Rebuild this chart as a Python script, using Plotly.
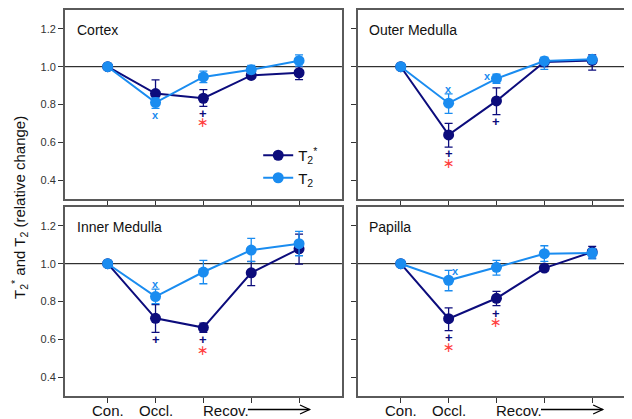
import plotly.graph_objects as go

# ---------------- data ----------------
timepoints = [0, 1, 2, 3, 4]
x_labels = ["Con.", "Occl.", "Recov."]
panels = ["Cortex", "Outer Medulla", "Inner Medulla", "Papilla"]

cortex_t2s = [1.0, 0.858, 0.833, 0.954, 0.968]
cortex_t2s_up = [0.0, 0.072, 0.046, 0.016, 0.032]
cortex_t2s_dn = [0.0, 0.030, 0.043, 0.016, 0.036]
cortex_t2 = [1.0, 0.810, 0.946, 0.984, 1.032]
cortex_t2_up = [0.0, 0.025, 0.031, 0.023, 0.031]
cortex_t2_dn = [0.0, 0.030, 0.030, 0.021, 0.029]

outer_t2s = [1.0, 0.639, 0.819, 1.025, 1.033]
outer_t2s_up = [0.0, 0.061, 0.069, 0.010, 0.030]
outer_t2s_dn = [0.0, 0.065, 0.073, 0.025, 0.051]
outer_t2 = [1.0, 0.807, 0.937, 1.030, 1.039]
outer_t2_up = [0.0, 0.049, 0.023, 0.020, 0.012]
outer_t2_dn = [0.0, 0.054, 0.025, 0.044, 0.019]

inner_t2s = [1.0, 0.711, 0.662, 0.952, 1.079]
inner_t2s_up = [0.0, 0.072, 0.024, 0.060, 0.078]
inner_t2s_dn = [0.0, 0.074, 0.025, 0.068, 0.081]
inner_t2 = [1.0, 0.826, 0.956, 1.072, 1.106]
inner_t2_up = [0.0, 0.040, 0.062, 0.062, 0.065]
inner_t2_dn = [0.0, 0.037, 0.062, 0.061, 0.064]

papilla_t2s = [1.0, 0.709, 0.817, 0.977, 1.062]
papilla_t2s_up = [0.0, 0.057, 0.037, 0.013, 0.030]
papilla_t2s_dn = [0.0, 0.063, 0.039, 0.017, 0.032]
papilla_t2 = [1.0, 0.912, 0.981, 1.053, 1.056]
papilla_t2_up = [0.0, 0.053, 0.037, 0.042, 0.023]
papilla_t2_dn = [0.0, 0.055, 0.041, 0.041, 0.031]

# significance marks: (x, y, symbol)  x = T2 vs Con., + = T2* vs Con., * = T2* vs T2
cortex_marks = [(1, 0.744, "x"), (2, 0.750, "+"), (2, 0.705, "*")]
outer_marks = [(1, 0.884, "x"), (1.82, 0.953, "x"), (1, 0.539, "+"), (1, 0.491, "*"), (2, 0.710, "+")]
inner_marks = [(1, 0.894, "x"), (1, 0.600, "+"), (2, 0.600, "+"), (2, 0.545, "*")]
papilla_marks = [(1.15, 0.963, "x"), (1, 0.610, "+"), (1, 0.559, "*"), (2, 0.739, "+"), (2, 0.692, "*")]

# ---------------- styling ----------------
NAVY = "#0c0c7c"
LIGHT = "#1a8cf0"
RED = "#ff4040"
FRAME = "#5a5a5a"
FONT = "Liberation Sans, Arial, sans-serif"

panel_data = [
    (cortex_t2s, cortex_t2s_up, cortex_t2s_dn, cortex_t2, cortex_t2_up, cortex_t2_dn, cortex_marks),
    (outer_t2s, outer_t2s_up, outer_t2s_dn, outer_t2, outer_t2_up, outer_t2_dn, outer_marks),
    (inner_t2s, inner_t2s_up, inner_t2s_dn, inner_t2, inner_t2_up, inner_t2_dn, inner_marks),
    (papilla_t2s, papilla_t2s_up, papilla_t2s_dn, papilla_t2, papilla_t2_up, papilla_t2_dn, papilla_marks),
]

# the page places the figure 8px in from the top-left corner (default body margin)
OFF = 8
W, H = 632 - OFF, 419 - OFF


def px(sx):
    return (sx - OFF) / W


def py(sy):
    return (H - (sy - OFF)) / H


xdom = [[px(65), px(343)], [px(359), 1.0]]
ydom = [[py(199), py(10)], [py(396), py(207)]]
xranges = [[-0.896, 4.896], [-0.896, 4.79]]

fig = go.Figure()
layout = dict(
    width=W, height=H,
    margin=dict(l=0, r=0, t=0, b=0),
    paper_bgcolor="white", plot_bgcolor="white",
    font=dict(family=FONT, color="#222"),
    showlegend=True,
    legend=dict(x=px(259), y=py(139), xanchor="left", yanchor="top",
                bgcolor="rgba(0,0,0,0)", font=dict(size=15, family=FONT, color="#111"),
                itemwidth=30, tracegroupgap=0),
)
annotations = []
shapes = []

for i, (name, pdata) in enumerate(zip(panels, panel_data)):
    col = i % 2
    row = i // 2
    idx = i + 1
    xa = "x" if idx == 1 else f"x{idx}"
    ya = "y" if idx == 1 else f"y{idx}"
    xkey = "xaxis" if idx == 1 else f"xaxis{idx}"
    ykey = "yaxis" if idx == 1 else f"yaxis{idx}"
    t2s, t2s_up, t2s_dn, t2, t2_up, t2_dn, marks = pdata

    layout[xkey] = dict(domain=xdom[col], range=xranges[col], anchor=ya,
                        showgrid=False, zeroline=False, showline=True, mirror=True,
                        linecolor=FRAME, linewidth=1.5,
                        tickvals=timepoints, ticks="outside", ticklen=5, tickcolor="#333",
                        tickwidth=1, showticklabels=False, fixedrange=True)
    layout[ykey] = dict(domain=ydom[row], range=[0.3, 1.3], anchor=xa,
                        showgrid=False, zeroline=False, showline=True, mirror=True,
                        linecolor=FRAME, linewidth=1.5,
                        tickvals=[0.4, 0.6, 0.8, 1.0, 1.2], ticktext=["0.4", "0.6", "0.8", "1.0", "1.2"],
                        ticks="outside", ticklen=5, tickcolor="#333", tickwidth=1,
                        showticklabels=(col == 0), tickfont=dict(size=11, color="#333"),
                        fixedrange=True)

    # reference line at 1.0
    shapes.append(dict(type="line", xref=f"{xa} domain", yref=ya, x0=0, x1=1, y0=1.0, y1=1.0,
                       line=dict(color="black", width=1), layer="below"))

    fig.add_trace(go.Scatter(
        x=timepoints, y=t2s, xaxis=xa, yaxis=ya, mode="lines+markers",
        name="T<sub>2</sub><sup>*</sup>", showlegend=(i == 0), legendrank=1,
        line=dict(color=NAVY, width=2), marker=dict(color=NAVY, size=11),
        error_y=dict(type="data", symmetric=False, array=t2s_up, arrayminus=t2s_dn,
                     color=NAVY, thickness=1.3, width=4)))
    fig.add_trace(go.Scatter(
        x=timepoints, y=t2, xaxis=xa, yaxis=ya, mode="lines+markers",
        name="T<sub>2</sub>", showlegend=(i == 0), legendrank=2,
        line=dict(color=LIGHT, width=2), marker=dict(color=LIGHT, size=11),
        error_y=dict(type="data", symmetric=False, array=t2_up, arrayminus=t2_dn,
                     color=LIGHT, thickness=1.3, width=4)))

    # panel title
    annotations.append(dict(text=name, xref=f"{xa} domain", yref=f"{ya} domain",
                            x=0.035, y=0.945, xanchor="left", yanchor="top", showarrow=False,
                            font=dict(size=14, color="#111", family=FONT)))

    # significance marks
    for mx, my, sym in marks:
        if sym == "x":
            txt = "x"
            fnt = dict(size=11, color=LIGHT, family=FONT, weight="bold")
        elif sym == "+":
            txt = "+"
            fnt = dict(size=13, color=NAVY, family=FONT, weight="bold")
        else:
            txt = "\u2217"
            fnt = dict(size=14, color=RED, family="DejaVu Sans")
        annotations.append(dict(text=txt, xref=xa, yref=ya, x=mx, y=my,
                                xanchor="center", yanchor="middle", showarrow=False, font=fnt))

    # x labels under bottom panels
    if row == 1:
        ylab = py(410)
        for lx, lt in zip(timepoints[:3], x_labels):
            annotations.append(dict(text=lt, xref=xa, yref="paper", x=lx, y=ylab,
                                    xanchor=("left" if lt == "Recov." else "center"),
                                    xshift=(-2 if lt == "Recov." else 0),
                                    yanchor="middle", showarrow=False,
                                    font=dict(size=15, color="#111", family=FONT)))
        # arrow after "Recov."
        ya_px = py(409.5)
        shapes.append(dict(type="line", xref=xa, yref="paper", x0=2.93, x1=4.22, y0=ya_px, y1=ya_px,
                           line=dict(color="black", width=1.3)))
        shapes.append(dict(type="path", xref=xa, yref="paper",
                           path=f"M 4.02,{ya_px + 4.5 / H} L 4.22,{ya_px} L 4.02,{ya_px - 4.5 / H}",
                           line=dict(color="black", width=1.3)))

# y title
annotations.append(dict(text="T<sub>2</sub><sup>*</sup> and T<sub>2</sub> (relative change)",
                        xref="paper", yref="paper", x=px(20), y=py(207), textangle=-90,
                        xanchor="center", yanchor="middle", showarrow=False,
                        font=dict(size=15, color="#111", family=FONT)))

layout["annotations"] = annotations
layout["shapes"] = shapes
fig.update_layout(**layout)
fig.write_html("out.html")
